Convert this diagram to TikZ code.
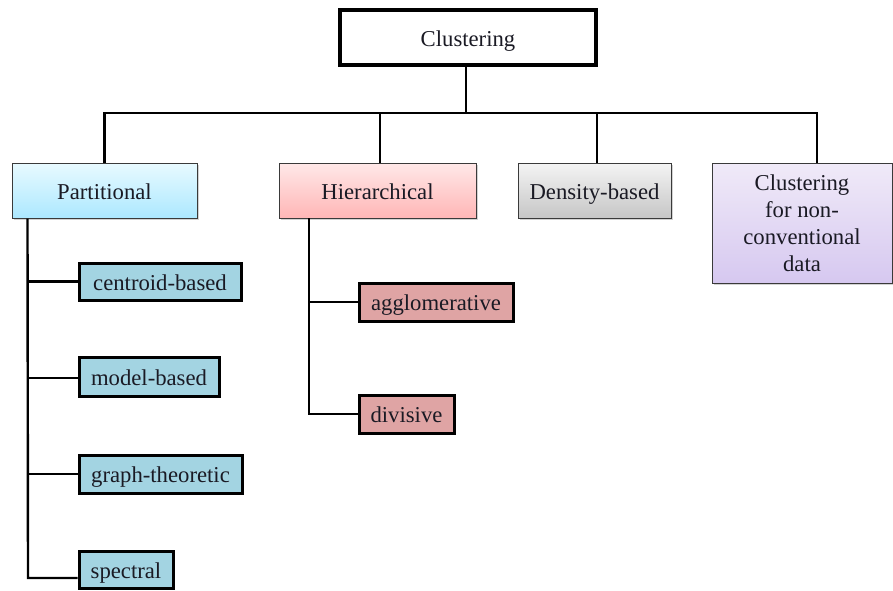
\documentclass[tikz,border=0pt]{standalone}
\usepackage{fontspec}
\setmainfont{Liberation Serif}
\usetikzlibrary{shadows}
\definecolor{txt}{HTML}{1A1A24}
\definecolor{partT}{HTML}{E8FAFF}
\definecolor{partB}{HTML}{ACE8FF}
\definecolor{hierT}{HTML}{FFE8E8}
\definecolor{hierB}{HTML}{FFB6B6}
\definecolor{densT}{HTML}{F4F4F4}
\definecolor{densB}{HTML}{C6C6C6}
\definecolor{nonT}{HTML}{F0EAF8}
\definecolor{nonB}{HTML}{D6C8F0}
\definecolor{childblue}{HTML}{A3D4E2}
\definecolor{childpink}{HTML}{DFA4A4}
\definecolor{catline}{HTML}{3A3A3A}
\tikzset{
  lbl/.style={font=\fontsize{22.7}{27}\selectfont, text=txt, inner sep=0pt, align=center},
  oneline/.style={text height=18.5pt, text depth=1.5pt},
  topbox/.style={lbl, oneline, draw=black, line width=4pt, fill=white},
  catbox/.style={lbl, draw=catline, line width=1pt,
    drop shadow={shadow xshift=2pt, shadow yshift=-2pt, fill=black!35}},
  childbox/.style={lbl, oneline, draw=black, line width=3pt},
  conn/.style={draw=black, line width=2.4pt, line join=miter},
}
\begin{document}
\begin{tikzpicture}[x=1pt,y=-1pt]
\useasboundingbox (0,0) rectangle (893,590);

\node[topbox, minimum width=256pt, minimum height=55pt] (top) at (468,37.5) {Clustering};

\node[catbox, oneline, top color=partT, bottom color=partB, minimum width=185pt, minimum height=55pt] (part) at (104.5,190.5) {Partitional};
\node[catbox, oneline, top color=hierT, bottom color=hierB, minimum width=197pt, minimum height=55pt] (hier) at (377.5,190.5) {Hierarchical};
\node[catbox, oneline, top color=densT, bottom color=densB, minimum width=153pt, minimum height=55pt] (dens) at (594.5,190.5) {Density-based};
\node[catbox, top color=nonT, bottom color=nonB, minimum width=180pt, minimum height=120pt] (non) at (802,223) {Clustering\\for non-\\conventional\\data};

\node[childbox, fill=childblue, minimum width=162pt, minimum height=37pt] (cent) at (160,281.5) {centroid-based};
\node[childbox, fill=childblue, minimum width=140pt, minimum height=39pt] (model) at (149,376.5) {model-based};
\node[childbox, fill=childblue, minimum width=163pt, minimum height=38pt] (graph) at (160.5,474) {graph-theoretic};
\node[childbox, fill=childblue, minimum width=94pt, minimum height=37pt] (spec) at (126,569.5) {spectral};

\node[childbox, fill=childpink, minimum width=154pt, minimum height=38pt] (aggl) at (436,302) {agglomerative};
\node[childbox, fill=childpink, minimum width=95pt, minimum height=38pt] (divi) at (406.5,414) {divisive};

% main tree
\coordinate (bus) at (466,113);
\coordinate (hs) at ([xshift=2.5pt]hier.north);
\coordinate (ds) at ([xshift=2.5pt]dens.north);
\coordinate (ns) at ([xshift=15pt]non.north);
\draw[conn] ([xshift=-2pt]top.south) -- ([xshift=-2pt]top.south |- bus);
\draw[conn] (part.north) |- (bus) -| (ns);
\draw[conn] (hs) -- (hs |- bus);
\draw[conn] (ds) -- (ds |- bus);

% partitional children
\coordinate (pv) at ([xshift=16pt]part.south west);
\coordinate (pend) at (28,578);
\draw[conn] (pv) -- (pend) -- (pend -| spec.west);
\draw[conn] (pv |- cent.west) -- (cent.west);
\draw[conn] ([yshift=-1.5pt]pv |- model.west) -- ([yshift=-1.5pt]model.west);
\draw[conn] (pv |- graph.west) -- (graph.west);

% hierarchical children
\coordinate (hv) at (309,218);
\draw[conn] (hv) |- (divi.west);
\draw[conn] (hv |- aggl.west) -- (aggl.west);
\end{tikzpicture}
\end{document}
